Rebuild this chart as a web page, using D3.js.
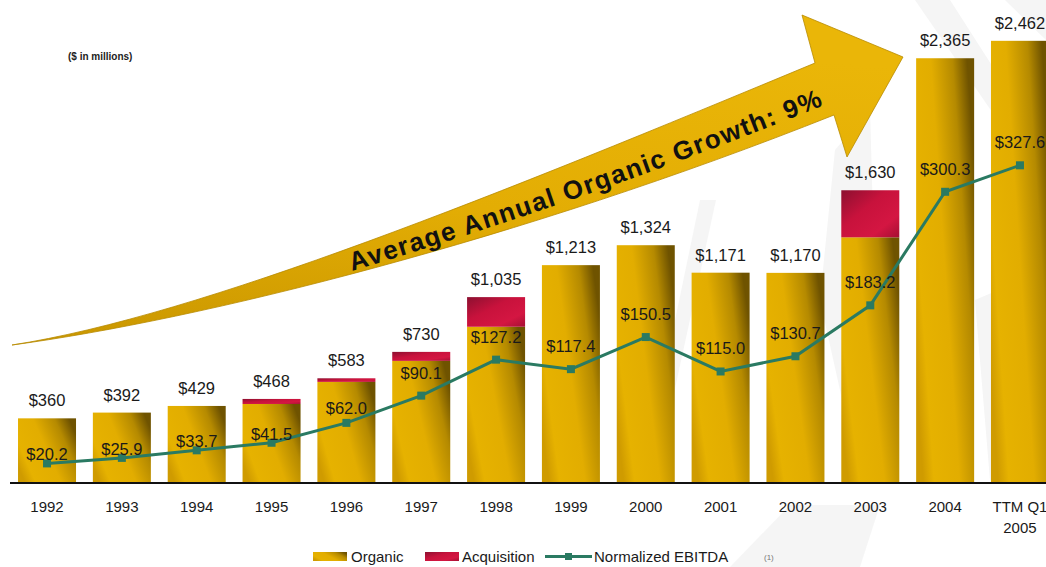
<!DOCTYPE html>
<html>
<head>
<meta charset="utf-8">
<script src="https://cdn.jsdelivr.net/npm/d3@7"></script>
<style>
  html, body { margin: 0; padding: 0; background: #fff; }
  svg { display: block; font-family: "Liberation Sans", Arial, sans-serif; }
</style>
</head>
<body>
<svg id="chart" width="1046" height="567"></svg>
<script>
// Revenue ($ in millions) split into organic and acquired, plus normalized EBITDA
const years = ["1992", "1993", "1994", "1995", "1996", "1997", "1998", "1999",
               "2000", "2001", "2002", "2003", "2004", "TTM Q1 2005"];
const totalRevenue = [360, 392, 429, 468, 583, 730, 1035, 1213, 1324, 1171, 1170, 1630, 2365, 2462];
const acquisitionRevenue = [0, 0, 0, 28, 20, 50, 165, 0, 0, 0, 0, 262, 0, 0];
const ebitda = [20.2, 25.9, 33.7, 41.5, 62.0, 90.1, 127.2, 117.4, 150.5, 115.0, 130.7, 183.2, 300.3, 327.6];
const revenueLabels = ["$360", "$392", "$429", "$468", "$583", "$730", "$1,035", "$1,213",
                       "$1,324", "$1,171", "$1,170", "$1,630", "$2,365", "$2,462"];
const ebitdaLabels = ["$20.2", "$25.9", "$33.7", "$41.5", "$62.0", "$90.1", "$127.2", "$117.4",
                      "$150.5", "$115.0", "$130.7", "$183.2", "$300.3", "$327.6"];
const legendItems = ["Organic", "Acquisition", "Normalized EBITDA"];
const arrowCaption = "Average Annual Organic Growth: 9%";
const unitsNote = "($ in millions)";

const svg = d3.select("#chart");
const baseY = 483;

const x = d3.scaleBand().domain(years).range([9.6, 1057.4])
  .paddingInner(0.225).paddingOuter(0.1125);
const y = d3.scaleLinear().domain([0, 2500]).range([baseY, 34]);
const yE = d3.scaleLinear().domain([0, 463]).range([baseY, 34]);

// gradients
const defs = svg.append("defs");
const gold = defs.append("linearGradient").attr("id", "gold")
  .attr("x1", 0).attr("y1", 0.75).attr("x2", 1).attr("y2", 0.25);
[[0, "#cf9b00"], [0.15, "#e6b200"], [0.5, "#e2ad00"], [0.8, "#b58a00"], [1, "#6f5300"]]
  .forEach(([o, c]) => gold.append("stop").attr("offset", o).attr("stop-color", c));
const red = defs.append("linearGradient").attr("id", "red")
  .attr("x1", 0).attr("y1", 0).attr("x2", 1).attr("y2", 1);
[[0, "#8c1030"], [0.4, "#c8123c"], [0.75, "#d41642"], [1, "#a50f33"]]
  .forEach(([o, c]) => red.append("stop").attr("offset", o).attr("stop-color", c));
const arrowGrad = defs.append("linearGradient").attr("id", "arrowGrad")
  .attr("x1", 0).attr("y1", 1).attr("x2", 0.2).attr("y2", 0);
[[0, "#c99600"], [0.5, "#e3ad04"], [1, "#eab608"]]
  .forEach(([o, c]) => arrowGrad.append("stop").attr("offset", o).attr("stop-color", c));

// faint watermark streaks in the background
const bg = svg.append("g").attr("fill", "#f1f1f1").attr("opacity", 0.7);
[
  "M700,200 L716,200 L655,480 L642,480 Z",
  "M835,150 L870,110 L880,470 L860,480 L820,300 Z",
  "M915,0 L950,0 L1046,150 L1046,190 Z",
  "M1005,0 L1046,0 L1046,40 Z",
  "M730,567 L790,505 L880,505 L860,567 Z",
  "M975,300 L1046,270 L1046,480 L990,480 Z"
].forEach(d => bg.append("path").attr("d", d));

// growth arrow
svg.append("path")
  .attr("d", "M12,345 C200,316 505,192 815,63 L802,15 L903,57 L847,157 L834,115 C520,240 200,320 12,345 Z")
  .attr("fill", "url(#arrowGrad)")
  .attr("stroke", "#b78a00").attr("stroke-width", 0.8);
defs.append("path").attr("id", "captionPath").attr("d", "M352,271 Q600,196 842,98");
svg.append("text")
  .attr("font-size", 26).attr("font-weight", "bold").attr("fill", "#111")
  .append("textPath").attr("href", "#captionPath")
  .attr("textLength", 500).attr("lengthAdjust", "spacing")
  .text(arrowCaption);

// units note
svg.append("text").attr("x", 68).attr("y", 60)
  .attr("font-size", 10).attr("fill", "#222").attr("font-weight", "bold")
  .text(unitsNote);

// bars
const bars = svg.append("g");
years.forEach((yr, i) => {
  const organic = totalRevenue[i] - acquisitionRevenue[i];
  bars.append("rect")
    .attr("x", x(yr)).attr("width", x.bandwidth())
    .attr("y", y(organic)).attr("height", baseY - y(organic))
    .attr("fill", "url(#gold)");
  if (acquisitionRevenue[i] > 0) {
    bars.append("rect")
      .attr("x", x(yr)).attr("width", x.bandwidth())
      .attr("y", y(totalRevenue[i])).attr("height", y(organic) - y(totalRevenue[i]))
      .attr("fill", "url(#red)");
  }
});

// revenue totals above the bars
svg.append("g").selectAll("text").data(years).join("text")
  .attr("x", d => x(d) + x.bandwidth() / 2)
  .attr("y", (d, i) => y(totalRevenue[i]) - 12)
  .attr("text-anchor", "middle").attr("font-size", 16.5).attr("fill", "#1a1a1a")
  .text((d, i) => revenueLabels[i]);

// EBITDA line
const cx = d => x(d) + x.bandwidth() / 2;
const line = d3.line().x((d, i) => cx(years[i])).y(d => yE(d));
svg.append("path").datum(ebitda).attr("d", line)
  .attr("fill", "none").attr("stroke", "#2a7a62").attr("stroke-width", 3);
svg.append("g").selectAll("rect").data(ebitda).join("rect")
  .attr("x", (d, i) => cx(years[i]) - 4).attr("y", d => yE(d) - 4)
  .attr("width", 8).attr("height", 8).attr("fill", "#2a7a62");

// EBITDA value labels
svg.append("g").selectAll("text").data(ebitda).join("text")
  .attr("x", (d, i) => cx(years[i]))
  .attr("y", d => yE(d) - (d < 50 ? 3 : d < 80 ? 9 : 17))
  .attr("text-anchor", "middle").attr("font-size", 16.5).attr("fill", "#1a1a1a")
  .text((d, i) => ebitdaLabels[i]);

// x axis
const axis = svg.append("g").attr("transform", `translate(0,${baseY})`)
  .call(d3.axisBottom(x).tickSize(0).tickFormat(""));
axis.select(".domain").attr("stroke", "#111").attr("stroke-width", 2)
  .attr("d", "M10,0H1046");
axis.selectAll(".tick text").remove();
const tickG = svg.append("g");
years.forEach(yr => {
  const parts = yr === "TTM Q1 2005" ? ["TTM Q1", "2005"] : [yr];
  const t = tickG.append("text").attr("x", cx(yr)).attr("y", baseY + 29)
    .attr("text-anchor", "middle").attr("font-size", 15).attr("fill", "#1a1a1a");
  parts.forEach((p, j) => t.append("tspan").attr("x", cx(yr)).attr("dy", j ? 21 : 0).text(p));
});

// legend
const lg = svg.append("g").attr("font-size", 15).attr("fill", "#1a1a1a");
lg.append("rect").attr("x", 313).attr("y", 552).attr("width", 34).attr("height", 9).attr("fill", "url(#gold)");
lg.append("text").attr("x", 351).attr("y", 562).text(legendItems[0]);
lg.append("rect").attr("x", 425).attr("y", 552).attr("width", 34).attr("height", 9).attr("fill", "url(#red)");
lg.append("text").attr("x", 462).attr("y", 562).text(legendItems[1]);
lg.append("line").attr("x1", 545).attr("x2", 592).attr("y1", 556.5).attr("y2", 556.5)
  .attr("stroke", "#2a7a62").attr("stroke-width", 3);
lg.append("rect").attr("x", 565).attr("y", 553).attr("width", 7).attr("height", 7).attr("fill", "#2a7a62");
lg.append("text").attr("x", 594).attr("y", 562).text(legendItems[2]);
lg.append("text").attr("x", 764).attr("y", 560).attr("font-size", 8).attr("fill", "#777").text("(1)");
</script>
</body>
</html>
